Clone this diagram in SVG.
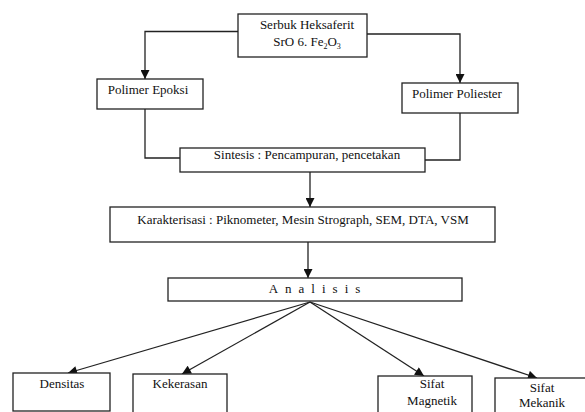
<svg xmlns="http://www.w3.org/2000/svg" width="585" height="412" viewBox="0 0 585 412">
<style>
.box{fill:#fff;stroke:#222;stroke-width:1.3}
.ln{fill:none;stroke:#222;stroke-width:1.3}
text{font-family:"Liberation Serif","Times New Roman",serif;font-size:13px;fill:#111;text-anchor:middle}
</style>
<defs>
<marker id="ah2" viewBox="0 0 10 10" refX="10" refY="5" markerWidth="10" markerHeight="9" markerUnits="userSpaceOnUse" orient="auto">
<path d="M0,0 L10,5 L0,10 z" fill="#111"/>
</marker>
</defs>
<rect width="585" height="412" fill="#fff"/>
<g id="connectors">
<path class="ln" d="M238,31.5 H145 V79" marker-end="url(#ah2)"/>
<path class="ln" d="M367,34 H460 V83" marker-end="url(#ah2)"/>
<path class="ln" d="M145,109 V158 H180"/>
<path class="ln" d="M460,113 V160 H425"/>
<path class="ln" d="M310,172 V207" marker-end="url(#ah2)"/>
<path class="ln" d="M308,242 V278" marker-end="url(#ah2)"/>
<path class="ln" d="M310,302 L68,373" marker-end="url(#ah2)"/>
<path class="ln" d="M310,302 L182,374" marker-end="url(#ah2)"/>
<path class="ln" d="M310,302 L424,376" marker-end="url(#ah2)"/>
<path class="ln" d="M310,302 L537,378" marker-end="url(#ah2)"/>
</g>
<g id="serbuk">
<rect class="box" x="238" y="14" width="129" height="43"/>
<text x="307" y="29">Serbuk Heksaferit</text>
<text x="307" y="46">SrO 6. Fe<tspan font-size="8" dy="3">2</tspan><tspan dy="-3">O</tspan><tspan font-size="8" dy="3">3</tspan></text>
</g>
<g id="epoksi">
<rect class="box" x="97" y="79" width="106" height="30"/>
<text x="148" y="94">Polimer Epoksi</text>
</g>
<g id="poliester">
<rect class="box" x="402" y="83" width="116" height="30"/>
<text x="457" y="98">Polimer Poliester</text>
</g>
<g id="sintesis">
<rect class="box" x="180" y="148" width="245" height="24"/>
<text x="307" y="159">Sintesis :  Pencampuran, pencetakan</text>
</g>
<g id="karakterisasi">
<rect class="box" x="110" y="207" width="385" height="35"/>
<text x="303" y="224">Karakterisasi : Piknometer, Mesin Strograph, SEM, DTA, VSM</text>
</g>
<g id="analisis">
<rect class="box" x="168" y="278" width="294" height="23"/>
<text x="318" y="293" letter-spacing="7">Analisis</text>
</g>
<g id="densitas">
<rect class="box" x="13" y="373" width="97" height="38"/>
<text x="62" y="388">Densitas</text>
</g>
<g id="kekerasan">
<rect class="box" x="133" y="374" width="94" height="40"/>
<text x="180" y="388">Kekerasan</text>
</g>
<g id="magnetik">
<rect class="box" x="378" y="376" width="94" height="40"/>
<text x="432" y="388">Sifat</text>
<text x="432" y="405">Magnetik</text>
</g>
<g id="mekanik">
<rect class="box" x="495" y="378" width="95" height="40"/>
<text x="542" y="392">Sifat</text>
<text x="542" y="407">Mekanik</text>
</g>
</svg>
